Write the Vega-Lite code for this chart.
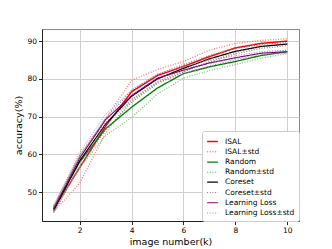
{
  "$schema": "https://vega.github.io/schema/vega-lite/v6.json",
  "width": 257,
  "height": 192,
  "autosize": {"type": "none"},
  "padding": {"left": 42, "top": 29, "right": 33, "bottom": 28},
  "background": "white",
  "config": {
    "font": "DejaVu Sans",
    "view": {"stroke": "#888888", "strokeWidth": 1},
    "axis": {
      "labelFont": "DejaVu Sans",
      "titleFont": "DejaVu Sans",
      "labelFontSize": 7.5,
      "titleFontSize": 9.5,
      "titleFontWeight": "normal",
      "labelColor": "#000000",
      "titleColor": "#000000",
      "domainColor": "#222222",
      "tickColor": "#222222",
      "tickSize": 3.5,
      "labelPadding": 2,
      "gridColor": "#cfcfcf",
      "gridWidth": 1
    },
    "legend": {
      "title": null,
      "orient": "none",
      "legendX": 160,
      "legendY": 102,
      "fillColor": "white",
      "strokeColor": "#cccccc",
      "padding": 4,
      "cornerRadius": 2,
      "labelFont": "DejaVu Sans",
      "labelFontSize": 7.5,
      "labelColor": "#000000",
      "symbolType": "stroke",
      "symbolSize": 115,
      "rowPadding": 0.3,
      "labelOffset": 6
    }
  },
  "data": {
    "values": [
      {"k":1,"s":"ISAL","b":"m","v":45.5},{"k":2,"s":"ISAL","b":"m","v":56.5},{"k":3,"s":"ISAL","b":"m","v":67.5},{"k":4,"s":"ISAL","b":"m","v":76.6},{"k":5,"s":"ISAL","b":"m","v":80.9},{"k":6,"s":"ISAL","b":"m","v":83.3},{"k":7,"s":"ISAL","b":"m","v":85.9},{"k":8,"s":"ISAL","b":"m","v":88.2},{"k":9,"s":"ISAL","b":"m","v":89.4},{"k":10,"s":"ISAL","b":"m","v":90.0},
      {"k":1,"s":"ISAL±std","b":"hi","v":46.3},{"k":2,"s":"ISAL±std","b":"hi","v":59.5},{"k":3,"s":"ISAL±std","b":"hi","v":69.5},{"k":4,"s":"ISAL±std","b":"hi","v":79.6},{"k":5,"s":"ISAL±std","b":"hi","v":82.5},{"k":6,"s":"ISAL±std","b":"hi","v":84.6},{"k":7,"s":"ISAL±std","b":"hi","v":87.6},{"k":8,"s":"ISAL±std","b":"hi","v":89.4},{"k":9,"s":"ISAL±std","b":"hi","v":90.2},{"k":10,"s":"ISAL±std","b":"hi","v":90.6},
      {"k":1,"s":"ISAL±std","b":"lo","v":44.8},{"k":2,"s":"ISAL±std","b":"lo","v":52.4},{"k":3,"s":"ISAL±std","b":"lo","v":65.7},{"k":4,"s":"ISAL±std","b":"lo","v":74.5},{"k":5,"s":"ISAL±std","b":"lo","v":79.3},{"k":6,"s":"ISAL±std","b":"lo","v":82.0},{"k":7,"s":"ISAL±std","b":"lo","v":84.6},{"k":8,"s":"ISAL±std","b":"lo","v":87.0},{"k":9,"s":"ISAL±std","b":"lo","v":88.6},{"k":10,"s":"ISAL±std","b":"lo","v":89.3},
      {"k":1,"s":"Random","b":"m","v":45.8},{"k":2,"s":"Random","b":"m","v":58.0},{"k":3,"s":"Random","b":"m","v":66.8},{"k":4,"s":"Random","b":"m","v":72.5},{"k":5,"s":"Random","b":"m","v":77.6},{"k":6,"s":"Random","b":"m","v":81.4},{"k":7,"s":"Random","b":"m","v":83.2},{"k":8,"s":"Random","b":"m","v":84.6},{"k":9,"s":"Random","b":"m","v":86.2},{"k":10,"s":"Random","b":"m","v":87.2},
      {"k":1,"s":"Random±std","b":"hi","v":46.6},{"k":2,"s":"Random±std","b":"hi","v":59.5},{"k":3,"s":"Random±std","b":"hi","v":68.5},{"k":4,"s":"Random±std","b":"hi","v":74.5},{"k":5,"s":"Random±std","b":"hi","v":79.0},{"k":6,"s":"Random±std","b":"hi","v":82.6},{"k":7,"s":"Random±std","b":"hi","v":84.2},{"k":8,"s":"Random±std","b":"hi","v":85.4},{"k":9,"s":"Random±std","b":"hi","v":86.8},{"k":10,"s":"Random±std","b":"hi","v":87.6},
      {"k":1,"s":"Random±std","b":"lo","v":45.0},{"k":2,"s":"Random±std","b":"lo","v":56.5},{"k":3,"s":"Random±std","b":"lo","v":65.0},{"k":4,"s":"Random±std","b":"lo","v":69.8},{"k":5,"s":"Random±std","b":"lo","v":76.0},{"k":6,"s":"Random±std","b":"lo","v":80.2},{"k":7,"s":"Random±std","b":"lo","v":82.2},{"k":8,"s":"Random±std","b":"lo","v":83.8},{"k":9,"s":"Random±std","b":"lo","v":85.5},{"k":10,"s":"Random±std","b":"lo","v":86.7},
      {"k":1,"s":"Coreset","b":"m","v":45.2},{"k":2,"s":"Coreset","b":"m","v":58.3},{"k":3,"s":"Coreset","b":"m","v":68.0},{"k":4,"s":"Coreset","b":"m","v":75.4},{"k":5,"s":"Coreset","b":"m","v":80.0},{"k":6,"s":"Coreset","b":"m","v":82.8},{"k":7,"s":"Coreset","b":"m","v":85.3},{"k":8,"s":"Coreset","b":"m","v":87.3},{"k":9,"s":"Coreset","b":"m","v":88.6},{"k":10,"s":"Coreset","b":"m","v":89.2},
      {"k":1,"s":"Coreset±std","b":"hi","v":46.0},{"k":2,"s":"Coreset±std","b":"hi","v":59.8},{"k":3,"s":"Coreset±std","b":"hi","v":69.5},{"k":4,"s":"Coreset±std","b":"hi","v":77.0},{"k":5,"s":"Coreset±std","b":"hi","v":81.2},{"k":6,"s":"Coreset±std","b":"hi","v":83.8},{"k":7,"s":"Coreset±std","b":"hi","v":86.2},{"k":8,"s":"Coreset±std","b":"hi","v":88.0},{"k":9,"s":"Coreset±std","b":"hi","v":89.1},{"k":10,"s":"Coreset±std","b":"hi","v":89.6},
      {"k":1,"s":"Coreset±std","b":"lo","v":44.5},{"k":2,"s":"Coreset±std","b":"lo","v":56.8},{"k":3,"s":"Coreset±std","b":"lo","v":66.5},{"k":4,"s":"Coreset±std","b":"lo","v":73.8},{"k":5,"s":"Coreset±std","b":"lo","v":78.8},{"k":6,"s":"Coreset±std","b":"lo","v":81.8},{"k":7,"s":"Coreset±std","b":"lo","v":84.4},{"k":8,"s":"Coreset±std","b":"lo","v":86.6},{"k":9,"s":"Coreset±std","b":"lo","v":88.1},{"k":10,"s":"Coreset±std","b":"lo","v":88.8},
      {"k":1,"s":"Learning Loss","b":"m","v":45.6},{"k":2,"s":"Learning Loss","b":"m","v":59.0},{"k":3,"s":"Learning Loss","b":"m","v":69.2},{"k":4,"s":"Learning Loss","b":"m","v":75.6},{"k":5,"s":"Learning Loss","b":"m","v":80.2},{"k":6,"s":"Learning Loss","b":"m","v":82.3},{"k":7,"s":"Learning Loss","b":"m","v":84.2},{"k":8,"s":"Learning Loss","b":"m","v":85.6},{"k":9,"s":"Learning Loss","b":"m","v":86.8},{"k":10,"s":"Learning Loss","b":"m","v":87.2},
      {"k":1,"s":"Learning Loss±std","b":"hi","v":46.4},{"k":2,"s":"Learning Loss±std","b":"hi","v":60.5},{"k":3,"s":"Learning Loss±std","b":"hi","v":70.6},{"k":4,"s":"Learning Loss±std","b":"hi","v":77.0},{"k":5,"s":"Learning Loss±std","b":"hi","v":81.3},{"k":6,"s":"Learning Loss±std","b":"hi","v":83.3},{"k":7,"s":"Learning Loss±std","b":"hi","v":85.0},{"k":8,"s":"Learning Loss±std","b":"hi","v":86.1},{"k":9,"s":"Learning Loss±std","b":"hi","v":87.2},{"k":10,"s":"Learning Loss±std","b":"hi","v":87.6},
      {"k":1,"s":"Learning Loss±std","b":"lo","v":44.8},{"k":2,"s":"Learning Loss±std","b":"lo","v":57.5},{"k":3,"s":"Learning Loss±std","b":"lo","v":67.8},{"k":4,"s":"Learning Loss±std","b":"lo","v":74.2},{"k":5,"s":"Learning Loss±std","b":"lo","v":79.0},{"k":6,"s":"Learning Loss±std","b":"lo","v":81.3},{"k":7,"s":"Learning Loss±std","b":"lo","v":83.4},{"k":8,"s":"Learning Loss±std","b":"lo","v":85.1},{"k":9,"s":"Learning Loss±std","b":"lo","v":86.4},{"k":10,"s":"Learning Loss±std","b":"lo","v":86.8}
    ]
  },
  "mark": {"type": "line", "clip": true},
  "encoding": {
    "x": {
      "field": "k", "type": "quantitative",
      "scale": {"domain": [0.55, 10.45], "nice": false, "zero": false},
      "axis": {"values": [2, 4, 6, 8, 10], "title": "image number(k)", "titlePadding": 2, "grid": true}
    },
    "y": {
      "field": "v", "type": "quantitative",
      "scale": {"domain": [42.4, 93.2], "nice": false, "zero": false},
      "axis": {"values": [50, 60, 70, 80, 90], "title": "accuracy(%)", "titlePadding": 3, "grid": true}
    },
    "detail": {"field": "b"},
    "color": {
      "field": "s", "type": "nominal",
      "scale": {
        "domain": ["ISAL", "ISAL±std", "Random", "Random±std", "Coreset", "Coreset±std", "Learning Loss", "Learning Loss±std"],
        "range": ["#ff0000", "#ff7f7f", "#008000", "#7fbf7f", "#000000", "#7f7f7f", "#800080", "#c07fc0"]
      }
    },
    "strokeDash": {
      "field": "s", "type": "nominal",
      "scale": {
        "domain": ["ISAL", "ISAL±std", "Random", "Random±std", "Coreset", "Coreset±std", "Learning Loss", "Learning Loss±std"],
        "range": [[1, 0], [1, 1.6], [1, 0], [1, 1.6], [1, 0], [1, 1.6], [1, 0], [1, 1.6]]
      }
    },
    "strokeWidth": {
      "field": "s", "type": "nominal",
      "scale": {
        "domain": ["ISAL", "ISAL±std", "Random", "Random±std", "Coreset", "Coreset±std", "Learning Loss", "Learning Loss±std"],
        "range": [1.5, 1, 1.5, 1, 1.5, 1, 1.5, 1]
      }
    }
  }
}
